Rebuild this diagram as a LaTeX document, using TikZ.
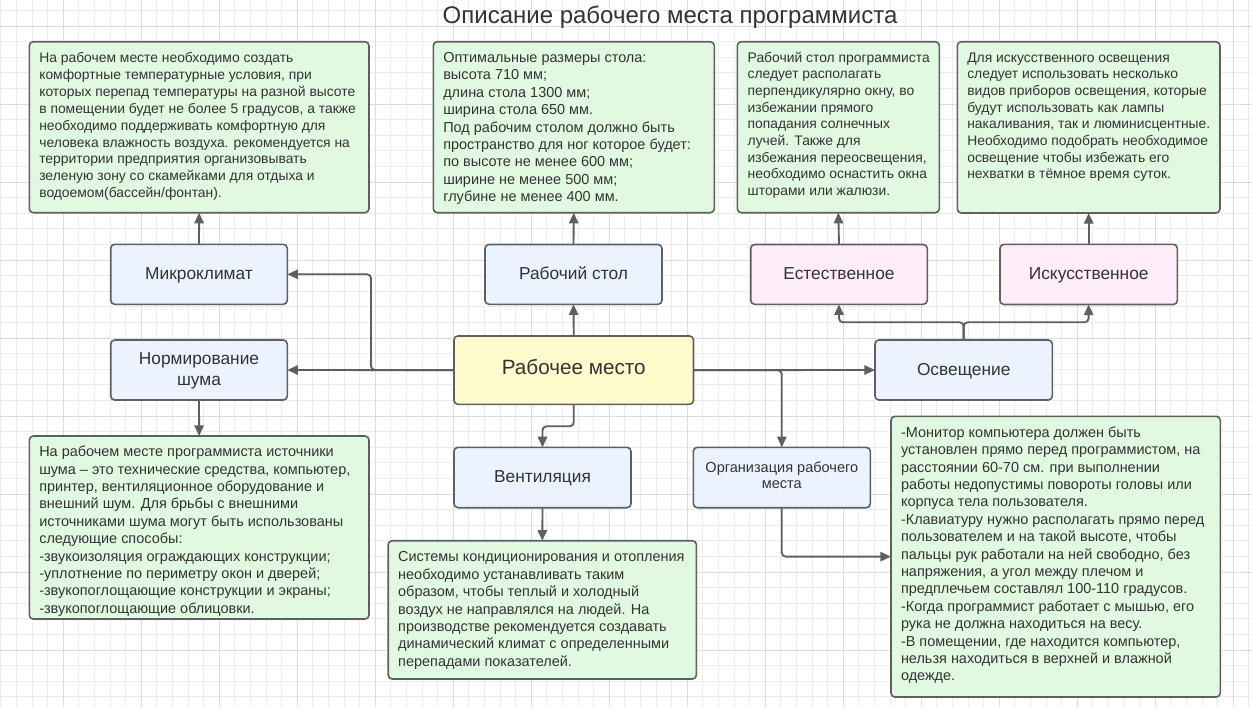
\documentclass[tikz,border=0pt]{standalone}
\usepackage{fontspec}
\setmainfont{Liberation Sans}
\usetikzlibrary{arrows.meta,fit,calc}
\definecolor{grn}{RGB}{224,249,224}
\definecolor{blu}{RGB}{234,243,255}
\definecolor{pnk}{RGB}{255,238,248}
\definecolor{ylw}{RGB}{254,251,204}
\definecolor{bd}{RGB}{95,95,95}
\definecolor{ln}{RGB}{95,95,95}
\definecolor{tc}{RGB}{51,51,51}
\definecolor{gmin}{RGB}{235,235,235}
\definecolor{gmaj}{RGB}{220,220,220}
\begin{document}
\begin{tikzpicture}[x=0.75pt,y=-0.75pt,
  basebox/.style={draw=bd, line width=1.2pt, rounded corners=3pt, inner sep=0pt, outer sep=0pt},
  gbox/.style={basebox, fill=grn},
  bbox/.style={basebox, fill=blu},
  pbox/.style={basebox, fill=pnk},
  ybox/.style={basebox, fill=ylw},
  lab/.style={inner sep=0pt, outer sep=0pt, text=tc, anchor=base, font=\fontsize{13}{16}\selectfont},
  mlab/.style={inner sep=0pt, outer sep=0pt, text=tc, anchor=north, align=center},
  txt/.style={inner sep=0pt, outer sep=0pt, align=left, anchor=north west, text=tc},
  fA/.style={txt, font=\fontsize{10.85}{13.05}\selectfont},
  fB/.style={txt, font=\fontsize{10.4}{12.5}\selectfont},
  fC/.style={txt, font=\fontsize{10.4}{12.7}\selectfont},
  conn/.style={draw=ln, line width=1.4pt, -{Triangle[length=8pt,width=7pt]}, rounded corners=3pt}
]
\useasboundingbox (0,0) rectangle (1252,707);
\fill[white] (0,0) rectangle (1252,707);
% grid
\foreach \i in {0,...,80} \draw[gmin, line width=0.75pt] ({0.9+15.6*\i},0) -- ({0.9+15.6*\i},707);
\foreach \j in {0,...,44} \draw[gmin, line width=0.75pt] (0,{10.4+15.6*\j}) -- (1252,{10.4+15.6*\j});
\foreach \i in {0,...,15} \draw[gmaj, line width=0.75pt] ({63.3+78*\i},0) -- ({63.3+78*\i},707);
\foreach \j in {0,...,8} \draw[gmaj, line width=0.75pt] (0,{26+78*\j}) -- (1252,{26+78*\j});

% title
\node[anchor=base, text=tc, font=\fontsize{18}{22}\selectfont, inner sep=0pt] (title) at (670,23.3) {Описание рабочего места программиста};

% text boxes
\node[gbox, fit={(29.3,41.7) (369,212.7)}] (t1) {};
\node[fC] at ([shift={(10,8.8)}]t1.north west) {\strut На рабочем месте необходимо создать\\
комфортные температурные условия, при\\
которых перепад температуры на разной высоте\\
в помещении будет не более 5 градусов, а также\\
необходимо поддерживать комфортную для\\
человека влажность воздуха. рекомендуется на\\
территории предприятия организовывать\\
зеленую зону со скамейками для отдыха и\\
водоемом(бассейн/фонтан).};

\node[gbox, fit={(433.3,41.7) (714.3,212.7)}] (t2) {};
\node[fA] at ([shift={(10,8.6)}]t2.north west) {\strut Оптимальные размеры стола:\\
высота 710 мм;\\
длина стола 1300 мм;\\
ширина стола 650 мм.\\
Под рабочим столом должно быть\\
пространство для ног которое будет:\\
по высоте не менее 600 мм;\\
ширине не менее 500 мм;\\
глубине не менее 400 мм.};

\node[gbox, fit={(737.3,41.7) (939.3,212.7)}] (t3) {};
\node[fB] at ([shift={(10.4,8.9)}]t3.north west) {\strut Рабочий стол программиста\\
следует располагать\\
перпендикулярно окну, во\\
избежании прямого\\
попадания солнечных\\
лучей. Также для\\
избежания переосвещения,\\
необходимо оснастить окна\\
шторами или жалюзи.};

\node[gbox, fit={(957.3,41.7) (1220,213)}] (t7) {};
\node[fB] at ([shift={(10,8.9)}]t7.north west) {\strut Для искусственного освещения\\
следует использовать несколько\\
видов приборов освещения, которые\\
будут использовать как лампы\\
накаливания, так и люминисцентные.\\
Необходимо подобрать необходимое\\
освещение чтобы избежать его\\
нехватки в тёмное время суток.};

\node[gbox, fit={(29.3,436) (369,619)}] (t4) {};
\node[fA] at ([shift={(10,8.6)}]t4.north west) {\strut На рабочем месте программиста источники\\
шума – это технические средства, компьютер,\\
принтер, вентиляционное оборудование и\\
внешний шум. Для брьбы с внешними\\
источниками шума могут быть использованы\\
следующие способы:\\
-звукоизоляция ограждающих конструкции;\\
-уплотнение по периметру окон и дверей;\\
-звукопоглощающие конструкции и экраны;\\
-звукопоглощающие облицовки.};

\node[gbox, fit={(388.2,540.7) (696.4,679)}] (t5) {};
\node[fA] at ([shift={(10,9)}]t5.north west) {\strut Системы кондиционирования и отопления\\
необходимо устанавливать таким\\
образом, чтобы теплый и холодный\\
воздух не направлялся на людей. На\\
производстве рекомендуется создавать\\
динамический климат с определенными\\
перепадами показателей.};

\node[gbox, fit={(891,416.3) (1220.3,697)}] (t6) {};
\node[fA] at ([shift={(10,8.8)}]t6.north west) {\strut -Монитор компьютера должен быть\\
установлен прямо перед программистом, на\\
расстоянии 60-70 см. при выполнении\\
работы недопустимы повороты головы или\\
корпуса тела пользователя.\\
-Клавиатуру нужно располагать прямо перед\\
пользователем и на такой высоте, чтобы\\
пальцы рук работали на ней свободно, без\\
напряжения, а угол между плечом и\\
предплечьем составлял 100-110 градусов.\\
-Когда программист работает с мышью, его\\
рука не должна находиться на весу.\\
-В помещении, где находится компьютер,\\
нельзя находиться в верхней и влажной\\
одежде.};

% label boxes
\node[bbox, fit={(110.7,244.3) (287.3,304.3)}] (micro) {};
\node[lab] (microL) at (199,279.3) {Микроклимат};
\node[bbox, fit={(485,244.5) (662,304.3)}] (desk) {};
\node[lab] (deskL) at (573.5,279.3) {Рабочий стол};
\node[pbox, fit={(750.7,244.5) (927.3,304.3)}] (nat) {};
\node[lab] (natL) at (839,279.3) {Естественное};
\node[pbox, fit={(1000,244.3) (1177.3,304.5)}] (art) {};
\node[lab] (artL) at (1088.7,279.3) {Искусственное};
\node[bbox, fit={(110.7,340) (287.3,400)}] (noise) {};
\node[mlab, font=\fontsize{13}{16}\selectfont] (noiseL) at (199,349.4) {\strut Нормирование\\шума};
\node[ybox, fit={(454,336) (693.5,404.3)}] (center) {};
\node[lab, font=\fontsize{15.5}{19}\selectfont] (centerL) at (573.75,374) {Рабочее место};
\node[bbox, fit={(875,340) (1052.3,400)}] (light) {};
\node[lab] (lightL) at (963.7,375) {Освещение};
\node[bbox, fit={(454,447.3) (631,507.7)}] (vent) {};
\node[lab] (ventL) at (542.5,482) {Вентиляция};
\node[bbox, fit={(693.3,447.3) (870.3,507.7)}] (org) {};
\node[mlab, font=\fontsize{10.9}{12}\selectfont] (orgL) at (781.8,461.1) {\strut Организация рабочего\\места};

% connectors
\coordinate (jL) at (371,370);
\draw[conn] (center.west) -- (noise.east);
\draw[conn] (center.west) -- (jL) |- (micro.east);
\draw[conn] (center.north) -- (desk.south);
\draw[conn] (center.south) -- ++(0,22) -| (vent.north);
\draw[conn] (center.east) -- (light.west);
\draw[conn] (center.east) -| (org.north);
\draw[conn] (org.south) |- (t6.west);
\draw[conn] (vent.south) -- (t5.north);
\draw[conn] (noise.south) -- (t4.north);
\draw[conn] (micro.north) -- (t1.south);
\draw[conn] (desk.north) -- (t2.south);
\draw[conn] (nat.north) -- (t3.south);
\draw[conn] (art.north) -- (t7.south);
\draw[conn] (light.north) -- ++(0,-17.7) -| (nat.south);
\draw[conn] (light.north) -- ++(0,-17.7) -| (art.south);
\end{tikzpicture}
\end{document}
